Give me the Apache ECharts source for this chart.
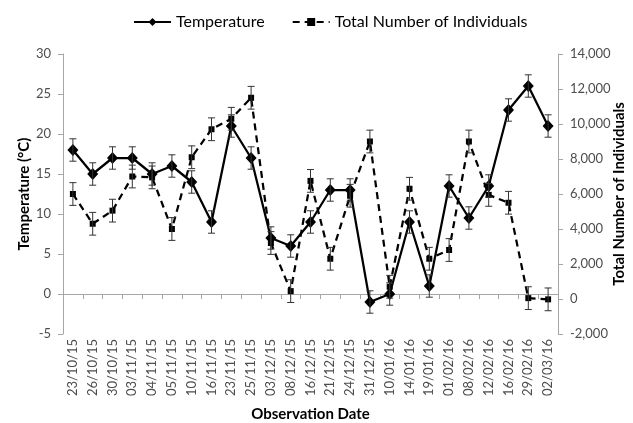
<!DOCTYPE html>
<html><head><meta charset="utf-8">
<script src="https://cdn.jsdelivr.net/npm/echarts@6/dist/echarts.min.js"></script>
<style>html,body{margin:0;padding:0;background:#fff}#c{width:633px;height:423px}</style>
</head><body><div id="c"></div>
<script>
const dates = ['23/10/15','26/10/15','30/10/15','03/11/15','04/11/15','05/11/15','10/11/15','16/11/15','23/11/15','25/11/15','03/12/15','08/12/15','16/12/15','21/12/15','24/12/15','31/12/15','10/01/16','14/01/16','19/01/16','01/02/16','08/02/16','12/02/16','16/02/16','29/02/16','02/03/16'];
const temperature = [18,15,17,17,15,16,14,9,21,17,7,6,9,13,13,-1,0,9,1,13.5,9.5,13.5,23,26,21];
const temperatureErr = [1.4,1.4,1.4,1.4,1.4,1.4,1.4,1.4,1.4,1.4,1.4,1.4,1.4,1.4,1.4,1.4,1.4,1.4,1.4,1.4,1.4,1.4,1.4,1.4,1.4];
const individuals = [6000,4300,5050,7000,6950,4000,8100,9700,10300,11500,3200,450,6750,2300,5900,9000,700,6300,2300,2800,9000,5950,5500,50,-20];
const individualsErr = [650,650,650,650,650,650,650,650,650,650,650,650,650,650,650,650,650,650,650,650,650,650,650,650,650];
const tempRange = {min:-5, max:30, interval:5};
const indRange = {min:-2000, max:14000, interval:2000};

const font = 'Lato, "Open Sans", sans-serif';
function errRender(params, api){
  const x = api.value(0), y = api.value(1), e = api.value(2);
  const lo = api.coord([x, y - e]), hi = api.coord([x, y + e]);
  const w = 3.5;
  const style = {stroke:'#333', lineWidth:1};
  return {type:'group', children:[
    {type:'line', shape:{x1:hi[0],y1:hi[1],x2:lo[0],y2:lo[1]}, style:style},
    {type:'line', shape:{x1:hi[0]-w,y1:hi[1],x2:hi[0]+w,y2:hi[1]}, style:style},
    {type:'line', shape:{x1:lo[0]-w,y1:lo[1],x2:lo[0]+w,y2:lo[1]}, style:style}
  ]};
}
const chart = echarts.init(document.getElementById('c'), null, {renderer:'canvas'});
const axisGray = '#a6a6a6';
const labelGray = '#4d4d4d';
chart.setOption({
  animation:false,
  textStyle:{fontFamily:font},
  grid:{left:63, right:75, top:54, bottom:89, containLabel:false, outerBoundsMode:'none'},
  legend:{
    data:['Temperature','Total Number of Individuals'],
    left:128, top:9, itemWidth:37, itemHeight:10, itemGap:27,
    textStyle:{fontFamily:font, fontSize:16, color:'#000'}
  },
  xAxis:[{
    type:'category', data:dates, boundaryGap:true,
    axisLine:{show:false, onZero:false}, axisTick:{show:false},
    axisLabel:{rotate:90, fontSize:13, color:labelGray, margin:5, interval:0, fontFamily:font},
    name:'Observation Date', nameLocation:'middle', nameGap:73, nameMoveOverlap:false,
    nameTextStyle:{fontSize:15, fontWeight:'bold', color:'#000', fontFamily:font}
  },{
    type:'category', data:dates, boundaryGap:true, position:'bottom',
    axisLine:{show:true, onZero:true, onZeroAxisIndex:0, lineStyle:{color:axisGray, width:1}},
    axisTick:{show:true, length:5, interval:0, lineStyle:{color:axisGray}},
    axisLabel:{show:false}
  }],
  yAxis:[{
    type:'value', min:tempRange.min, max:tempRange.max, interval:tempRange.interval,
    axisLine:{show:true, onZero:false, lineStyle:{color:axisGray}},
    axisTick:{show:true, length:5, lineStyle:{color:axisGray}},
    splitLine:{show:false},
    axisLabel:{fontSize:13, color:labelGray, margin:12, fontFamily:font},
    name:'Temperature (°C)', nameLocation:'middle', nameGap:31, nameMoveOverlap:false,
    nameTextStyle:{fontSize:15, fontWeight:'bold', color:'#000', fontFamily:font}
  },{
    type:'value', min:indRange.min, max:indRange.max, interval:indRange.interval, position:'right',
    axisLine:{show:true, onZero:false, lineStyle:{color:axisGray}},
    axisTick:{show:true, length:5, lineStyle:{color:axisGray}},
    splitLine:{show:false},
    axisLabel:{fontSize:13, color:labelGray, margin:12, fontFamily:font,
      formatter:function(v){return v.toLocaleString('en-US');}},
    name:'Total Number of Individuals', nameLocation:'middle', nameGap:54, nameMoveOverlap:false,
    nameTextStyle:{fontSize:15, fontWeight:'bold', color:'#000', fontFamily:font}
  }],
  series:[{
    name:'Total Number of Individuals', type:'line', xAxisIndex:0, yAxisIndex:1,
    data:individuals, symbol:'rect', symbolSize:6,
    lineStyle:{color:'#000', width:2.25, type:[7,5]},
    itemStyle:{color:'#000'}, z:3
  },{
    name:'Temperature', type:'line', xAxisIndex:0, yAxisIndex:0,
    data:temperature, symbol:'diamond', symbolSize:[11,12],
    lineStyle:{color:'#000', width:2.25},
    itemStyle:{color:'#000'}, z:4
  },{
    name:'tempErr', type:'custom', xAxisIndex:0, yAxisIndex:0,
    renderItem:errRender, encode:{x:0, y:1},
    data:temperature.map(function(v,i){return [i, v, temperatureErr[i]];}), z:5
  },{
    name:'indErr', type:'custom', xAxisIndex:0, yAxisIndex:1,
    renderItem:errRender, encode:{x:0, y:1},
    data:individuals.map(function(v,i){return [i, v, individualsErr[i]];}), z:5
  }]
});
</script></body></html>
